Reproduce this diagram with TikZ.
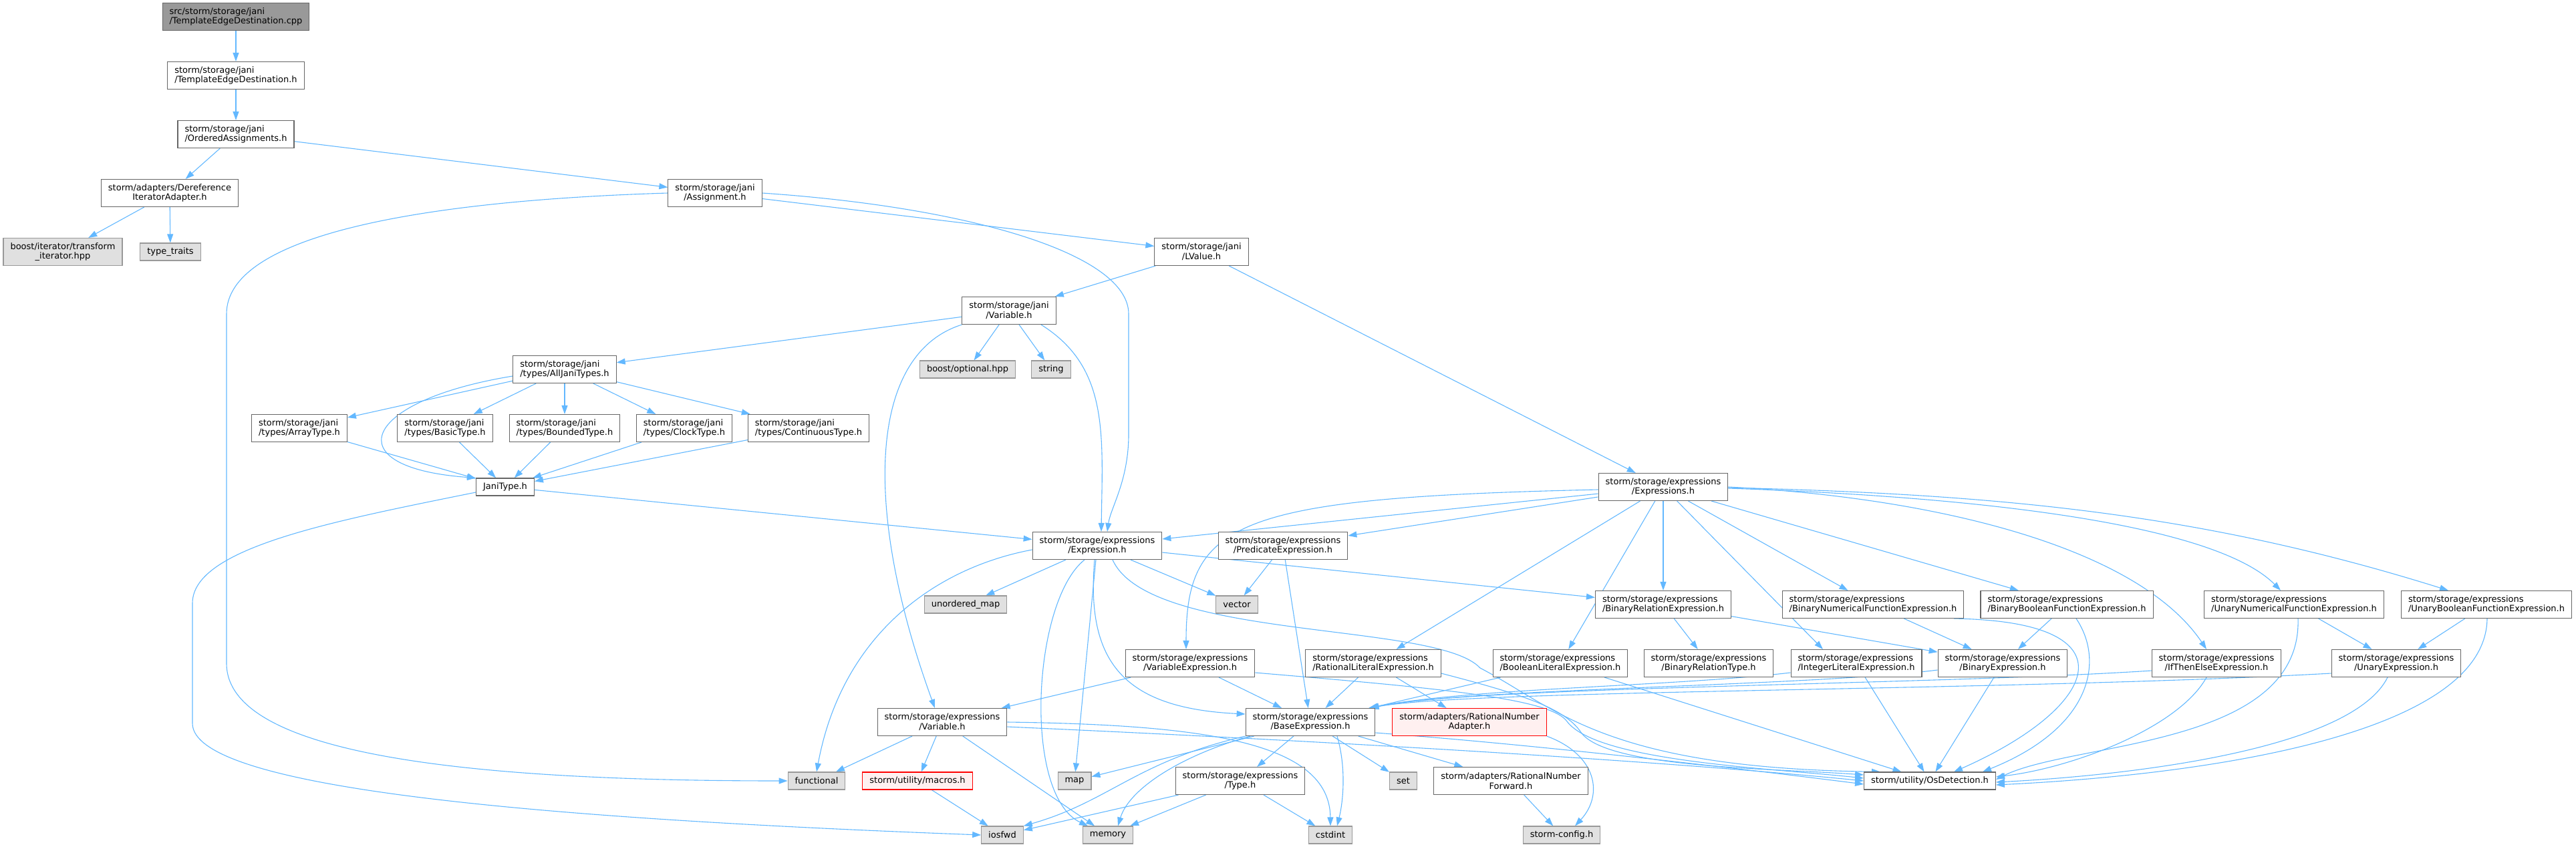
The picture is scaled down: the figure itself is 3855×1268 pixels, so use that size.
\documentclass[tikz,border=0pt]{standalone}
\usepackage{fontspec}
\newfontfamily\dejavu{DejaVu Sans}
\usepackage{xcolor}
\usepackage{tikz}
\usetikzlibrary{arrows.meta, backgrounds}
\definecolor{edgeblue}{HTML}{63B8FF}
\definecolor{boxgrey}{HTML}{666666}
\definecolor{sysfill}{HTML}{E0E0E0}
\definecolor{sysline}{HTML}{999999}
\definecolor{rootfill}{HTML}{999999}
\definecolor{missfill}{HTML}{FFF0F0}
% two-line label: first line flush left, second centred
\newsavebox\lblone
\newsavebox\lbltwo
\newcommand\lbl[2]{\sbox\lblone{#1}\sbox\lbltwo{#2}%
  \ifdim\wd\lblone<\wd\lbltwo\makebox[\wd\lbltwo][l]{#1}\else#1\fi\\#2}
\tikzset{
  file/.style     = {rectangle, draw=boxgrey, fill=white, line width=1.1pt,
                     font=\dejavu\fontsize{13}{14.7}\selectfont, align=center,
                     inner xsep=10.5pt, inner ysep=2pt, minimum height=26pt},
  sysfile/.style  = {file, draw=sysline, fill=sysfill},
  rootfile/.style = {file, fill=rootfill},
  redfile/.style  = {file, draw=red, fill=missfill},
  dbl/.style      = {minimum height=41pt},
  dep/.style      = {draw=edgeblue, line width=1.1pt,
                     -{Triangle[length=13pt,width=9pt]}}
}
\begin{document}
\begin{tikzpicture}[x=1pt, y=-1pt]
  \useasboundingbox (0,0) rectangle (3855,1268);
  % jani part
  \node[rootfile,dbl] (cpp) at (353,25) {\lbl{src/storm/storage/jani}{/TemplateEdgeDestination.cpp}};
  \node[file,dbl] (ted) at (353,113) {\lbl{storm/storage/jani}{/TemplateEdgeDestination.h}};
  \node[file,dbl] (oas) at (353,201) {\lbl{storm/storage/jani}{/OrderedAssignments.h}};
  \node[file,dbl] (dia) at (254,289) {\lbl{storm/adapters/Dereference}{IteratorAdapter.h}};
  \node[file,dbl] (asg) at (1070,289) {\lbl{storm/storage/jani}{/Assignment.h}};
  \node[sysfile,dbl] (bti) at (94,377) {\lbl{boost/iterator/transform}{\_iterator.hpp}};
  \node[sysfile] (tyt) at (255,377) {type\_traits};
  \node[file,dbl] (lva) at (1798,377) {\lbl{storm/storage/jani}{/LValue.h}};
  \node[file,dbl] (vja) at (1510,465) {\lbl{storm/storage/jani}{/Variable.h}};
  \node[file,dbl] (ajt) at (845,553) {\lbl{storm/storage/jani}{/types/AllJaniTypes.h}};
  \node[sysfile] (bop) at (1448,553) {boost/optional.hpp};
  \node[sysfile] (str) at (1573,553) {string};
  \node[file,dbl] (arr) at (448,641) {\lbl{storm/storage/jani}{/types/ArrayType.h}};
  \node[file,dbl] (bas) at (666,641) {\lbl{storm/storage/jani}{/types/BasicType.h}};
  \node[file,dbl] (bnd) at (845,641) {\lbl{storm/storage/jani}{/types/BoundedType.h}};
  \node[file,dbl] (clk) at (1024,641) {\lbl{storm/storage/jani}{/types/ClockType.h}};
  \node[file,dbl] (cnt) at (1210,641) {\lbl{storm/storage/jani}{/types/ContinuousType.h}};
  \node[file] (jty) at (756,729) {JaniType.h};
  % expressions part
  \node[file,dbl] (exs) at (2489,729) {\lbl{storm/storage/expressions}{/Expressions.h}};
  \node[file,dbl] (exp) at (1642,817) {\lbl{storm/storage/expressions}{/Expression.h}};
  \node[file,dbl] (pre) at (1920,817) {\lbl{storm/storage/expressions}{/PredicateExpression.h}};
  \node[sysfile] (umap) at (1445,905) {unordered\_map};
  \node[sysfile] (vec) at (1851,905) {vector};
  \node[file,dbl] (bre) at (2489,905) {\lbl{storm/storage/expressions}{/BinaryRelationExpression.h}};
  \node[file,dbl] (bnf) at (2803,905) {\lbl{storm/storage/expressions}{/BinaryNumericalFunctionExpression.h}};
  \node[file,dbl] (bbf) at (3093,905) {\lbl{storm/storage/expressions}{/BinaryBooleanFunctionExpression.h}};
  \node[file,dbl] (unf) at (3433,905) {\lbl{storm/storage/expressions}{/UnaryNumericalFunctionExpression.h}};
  \node[file,dbl] (ubf) at (3721,905) {\lbl{storm/storage/expressions}{/UnaryBooleanFunctionExpression.h}};
  \node[file,dbl] (vex) at (1781,993) {\lbl{storm/storage/expressions}{/VariableExpression.h}};
  \node[file,dbl] (rle) at (2055,993) {\lbl{storm/storage/expressions}{/RationalLiteralExpression.h}};
  \node[file,dbl] (ble) at (2335,993) {\lbl{storm/storage/expressions}{/BooleanLiteralExpression.h}};
  \node[file,dbl] (brt) at (2557,993) {\lbl{storm/storage/expressions}{/BinaryRelationType.h}};
  \node[file,dbl] (ile) at (2778,993) {\lbl{storm/storage/expressions}{/IntegerLiteralExpression.h}};
  \node[file,dbl] (bex) at (2997,993) {\lbl{storm/storage/expressions}{/BinaryExpression.h}};
  \node[file,dbl] (ite) at (3317,993) {\lbl{storm/storage/expressions}{/IfThenElseExpression.h}};
  \node[file,dbl] (uex) at (3586,993) {\lbl{storm/storage/expressions}{/UnaryExpression.h}};
  \node[file,dbl] (var) at (1410,1081) {\lbl{storm/storage/expressions}{/Variable.h}};
  \node[file,dbl] (bae) at (1961,1081) {\lbl{storm/storage/expressions}{/BaseExpression.h}};
  \node[redfile,dbl] (rna) at (2199,1081) {\lbl{storm/adapters/RationalNumber}{Adapter.h}};
  \node[sysfile] (fun) at (1222,1169) {functional};
  \node[redfile] (mac) at (1373,1169) {storm/utility/macros.h};
  \node[sysfile] (map) at (1608,1169) {map};
  \node[file,dbl] (typ) at (1856,1169) {\lbl{storm/storage/expressions}{/Type.h}};
  \node[sysfile] (set) at (2100,1169) {set};
  \node[file,dbl] (rnf) at (2261,1169) {\lbl{storm/adapters/RationalNumber}{Forward.h}};
  \node[file] (osd) at (2888,1169) {storm/utility/OsDetection.h};
  \node[sysfile] (ios) at (1500,1250) {iosfwd};
  \node[sysfile] (mem) at (1658,1250) {memory};
  \node[sysfile] (cst) at (1991,1250) {cstdint};
  \node[sysfile] (cfg) at (2337,1250) {storm-config.h};

  \begin{scope}[on background layer]
    % top chain
    \draw[dep] (cpp) -- (ted);
    \draw[dep] (ted) -- (oas);
    \draw[dep] (oas) -- (dia);
    \draw[dep] (oas) -- (asg);
    \draw[dep] (dia) -- (bti);
    \draw[dep] (dia) -- (tyt);
    \draw[dep] (asg.west) .. controls (640,300) and (339,350) .. (339,470)
      -- (339,993) .. controls (339,1130) and (700,1169) .. (fun.west);
    \draw[dep] (asg) -- (lva);
    \draw[dep] (asg.east) .. controls (1450,310) and (1689,380) .. (1689,470)
      -- (1689,650) .. controls (1689,720) and (1662,760) .. ([xshift=15pt]exp.north);
    \draw[dep] (lva) -- (vja);
    \draw[dep] (lva) -- (exs);
    \draw[dep] (vja) -- (ajt);
    \draw[dep] (vja) -- (bop);
    \draw[dep] (vja) -- (str);
    \draw[dep] ([xshift=48pt]vja.south) .. controls (1660,550) and (1650,650) .. ([xshift=6pt]exp.north);
    \draw[dep] (vja.south west) .. controls (1300,530) and (1290,760) .. ([xshift=-11pt]var.north);
    % jani types
    \draw[dep] (ajt) -- (arr);
    \draw[dep] (ajt) -- (bas);
    \draw[dep] (ajt) -- (bnd);
    \draw[dep] (ajt) -- (clk);
    \draw[dep] (ajt) -- (cnt);
    \draw[dep] ([yshift=-10pt]ajt.west) .. controls (540,600) and (500,700) .. (jty.north west);
    \draw[dep] (arr) -- (jty);
    \draw[dep] (bas) -- (jty);
    \draw[dep] (bnd) -- (jty);
    \draw[dep] (clk) -- (jty);
    \draw[dep] (cnt) -- (jty);
    \draw[dep] (jty) -- (exp);
    \draw[dep] ([yshift=-8pt]jty.west) .. controls (500,780) and (288,820) .. (288,903)
      -- (288,1083) .. controls (288,1180) and (800,1225) .. (ios.west);
    % Expressions.h
    \draw[dep] (exs) -- (exp);
    \draw[dep] (exs) -- (pre);
    \draw[dep] ([yshift=-4pt]exs.west) .. controls (1850,745) and (1775,780) .. ([xshift=-6pt]vex.north);
    \draw[dep] (exs) -- (rle);
    \draw[dep] (exs) -- (ble);
    \draw[dep] (exs) -- (bre);
    \draw[dep] (exs) -- ([xshift=-50pt]ile.north);
    \draw[dep] (exs) -- (bnf);
    \draw[dep] (exs) -- (bbf);
    \draw[dep] (exs.east) .. controls (2900,745) and (3200,820) .. ([xshift=-15pt]ite.north);
    \draw[dep] ([yshift=-2pt]exs.east) .. controls (3000,745) and (3320,790) .. ([xshift=-20pt]unf.north);
    \draw[dep] ([yshift=-1pt]exs.east) .. controls (3000,740) and (3300,770) .. ([xshift=-57pt]ubf.north);
    \draw[dep] (pre) -- (vec);
    \draw[dep] (pre) -- (bae);
    % Expression.h
    \draw[dep] ([yshift=-6pt]exp.west) .. controls (1400,850) and (1260,950) .. (fun.north);
    \draw[dep] (exp) -- (umap);
    \draw[dep] ([xshift=-19pt]exp.south) .. controls (1545,900) and (1530,1190) .. ([xshift=-30pt]mem.north);
    \draw[dep] (exp) -- (map);
    \draw[dep] ([xshift=-4pt]exp.south) .. controls (1625,990) and (1680,1060) .. ([yshift=12pt]bae.west);
    \draw[dep] (exp) -- (vec);
    \draw[dep] (exp) -- (bre);
    \draw[dep] ([xshift=23pt]exp.south) .. controls (1720,960) and (2150,930) .. (2215,1000)
      .. controls (2330,1060) and (2400,1150) .. ([xshift=-74pt]osd.north);
    % second row
    \draw[dep] (bre) -- (brt);
    \draw[dep] (bre) -- (bex);
    \draw[dep] (bnf) -- (bex);
    \draw[dep] ([xshift=121pt]bnf.south) .. controls (3200,930) and (3140,1060) .. ([xshift=36pt]osd.north);
    \draw[dep] (bbf) -- (bex);
    \draw[dep] ([xshift=14pt]bbf.south) .. controls (3150,990) and (3130,1090) .. ([xshift=79pt]osd.north);
    \draw[dep] (unf) -- (uex);
    \draw[dep] ([xshift=6pt]unf.south) .. controls (3445,1120) and (3100,1110) .. ([yshift=2pt]osd.east);
    \draw[dep] (ubf) -- (uex);
    \draw[dep] ([xshift=1pt]ubf.south) .. controls (3720,1100) and (3300,1160) .. ([yshift=-6pt]osd.east);
    % third row
    \draw[dep] (vex) -- (var);
    \draw[dep] (vex) -- (bae);
    \draw[dep] ([yshift=-14pt]vex.east) .. controls (2150,1030) and (2320,1045) .. (2345,1080)
      .. controls (2390,1140) and (2650,1150) .. ([yshift=4pt]osd.west);
    \draw[dep] (rle) -- (bae);
    \draw[dep] (rle) -- (rna);
    \draw[dep] ([yshift=-15pt]rle.east) .. controls (2280,1040) and (2340,1060) .. (2365,1095)
      .. controls (2400,1150) and (2650,1150) .. ([yshift=9pt]osd.west);
    \draw[dep] (ble) -- (bae);
    \draw[dep] (ble) -- (osd);
    \draw[dep] ([yshift=-14pt]ile.west) .. controls (2500,1028) and (2200,1030) .. ([xshift=-10pt]bae.north east);
    \draw[dep] (ile) -- (osd);
    \draw[dep] ([yshift=-10pt]bex.west) .. controls (2700,1028) and (2200,1030) .. ([xshift=-10pt]bae.north east);
    \draw[dep] (bex) -- (osd);
    \draw[dep] ([yshift=-11pt]ite.west) .. controls (2900,1025) and (2200,1028) .. ([xshift=-8pt]bae.north east);
    \draw[dep] ([xshift=-15pt]ite.south) .. controls (3260,1090) and (3100,1150) .. ([yshift=6pt]osd.east);
    \draw[dep] ([yshift=-15pt]uex.west) .. controls (3000,1035) and (2200,1032) .. ([xshift=-8pt]bae.north east);
    \draw[dep] ([xshift=-13pt]uex.south) .. controls (3520,1120) and (3200,1160) .. ([yshift=-2pt]osd.east);
    % Variable.h and BaseExpression.h
    \draw[dep] (var) -- (fun);
    \draw[dep] (var) -- (mac);
    \draw[dep] (var) -- (mem);
    \draw[dep] (var.east) .. controls (1800,1085) and (1990,1110) .. (cst.north);
    \draw[dep] ([yshift=-7pt]var.east) .. controls (2000,1110) and (2500,1140) .. (osd.west);
    \draw[dep] (bae) -- (map);
    \draw[dep] (bae.south west) .. controls (1700,1140) and (1660,1200) .. (ios.north east);
    \draw[dep] ([xshift=-90pt]bae.south) .. controls (1770,1130) and (1690,1180) .. ([xshift=15pt]mem.north);
    \draw[dep] (bae) -- (typ);
    \draw[dep] ([xshift=40pt]bae.south) .. controls (2015,1150) and (2010,1200) .. ([xshift=10pt]cst.north);
    \draw[dep] (bae) -- (set);
    \draw[dep] (bae) -- (rnf);
    \draw[dep] ([yshift=-16pt]bae.east) .. controls (2300,1115) and (2600,1150) .. ([yshift=-5pt]osd.west);
    \draw[dep] (rna.south east) .. controls (2390,1130) and (2400,1190) .. ([xshift=20pt]cfg.north);
    % bottom
    \draw[dep] (mac) -- (ios);
    \draw[dep] (typ) -- (ios);
    \draw[dep] (typ) -- (mem);
    \draw[dep] (typ) -- (cst);
    \draw[dep] (rnf) -- (cfg);
  \end{scope}
\end{tikzpicture}
\end{document}
